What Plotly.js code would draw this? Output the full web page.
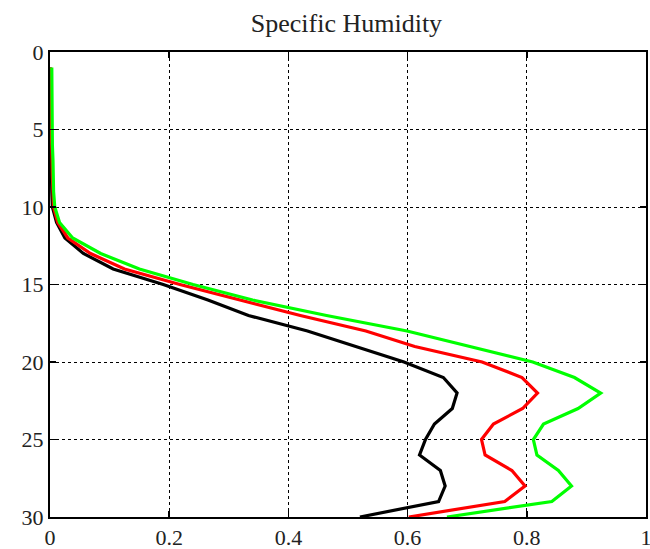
<!DOCTYPE html>
<html>
<head>
<meta charset="utf-8">
<script src="https://cdn.plot.ly/plotly-3.0.1.min.js"></script>
<style>
  html, body { margin: 0; padding: 0; background: #fff; }
  #chart { width: 650px; height: 549px; }
</style>
</head>
<body>
<div id="chart"></div>
<script>
// Vertical levels (0 at top, 30 at bottom)
const levels = [1, 2, 3, 4, 5, 6, 7, 8, 9, 10,
                11, 12, 13, 14, 15, 16, 17, 18, 19, 20,
                21, 22, 23, 24, 25, 26, 27, 28, 29, 30];

// Specific humidity profiles
const humidityBlack = [0.000, 0.000, 0.001, 0.001, 0.001, 0.001, 0.002, 0.002, 0.003, 0.004,
                       0.011, 0.025, 0.056, 0.106, 0.190, 0.265, 0.333, 0.432, 0.513, 0.594,
                       0.660, 0.683, 0.675, 0.645, 0.630, 0.620, 0.655, 0.663, 0.652, 0.520];
const humidityRed   = [0.001, 0.001, 0.002, 0.002, 0.002, 0.003, 0.003, 0.004, 0.005, 0.006,
                       0.013, 0.030, 0.068, 0.125, 0.218, 0.320, 0.420, 0.530, 0.612, 0.725,
                       0.792, 0.818, 0.793, 0.744, 0.724, 0.730, 0.775, 0.797, 0.763, 0.602];
const humidityGreen = [0.003, 0.003, 0.003, 0.004, 0.004, 0.004, 0.005, 0.005, 0.006, 0.008,
                       0.016, 0.038, 0.085, 0.150, 0.240, 0.340, 0.464, 0.599, 0.705, 0.810,
                       0.880, 0.924, 0.886, 0.828, 0.811, 0.817, 0.853, 0.875, 0.842, 0.666];

const xTicks = [0, 0.2, 0.4, 0.6, 0.8, 1];
const xTickLabels = ['0', '0.2', '0.4', '0.6', '0.8', '1'];
const yTicks = [0, 5, 10, 15, 20, 25, 30];
const yTickLabels = ['0', '5', '10', '15', '20', '25', '30'];

const serif = 'Liberation Serif';

function profile(values, color) {
  return {
    x: values,
    y: levels,
    type: 'scatter',
    mode: 'lines',
    line: { color: color, width: 3.2 },
    hoverinfo: 'x+y',
    showlegend: false
  };
}

const data = [
  profile(humidityBlack, '#000000'),
  profile(humidityRed, '#ff0000'),
  profile(humidityGreen, '#00ff00')
];

const axisCommon = {
  showline: true,
  linecolor: '#000',
  linewidth: 2,
  mirror: 'ticks',
  ticks: 'inside',
  ticklen: 6,
  tickwidth: 1.5,
  tickcolor: '#000',
  showgrid: true,
  gridcolor: '#000',
  gridwidth: 1,
  griddash: 'dot',
  zeroline: false,
  ticklabeloverflow: 'allow',
  tickfont: { family: serif, size: 22, color: '#222' }
};

const layout = {
  width: 650,
  height: 549,
  paper_bgcolor: '#fff',
  plot_bgcolor: '#fff',
  margin: { l: 50, r: 4, t: 52, b: 32 },
  title: {
    text: 'Specific Humidity',
    font: { family: serif, size: 26, color: '#222' },
    x: 0.533,
    xanchor: 'center',
    y: 1 - 23 / 549,
    yanchor: 'middle',
    yref: 'container'
  },
  xaxis: Object.assign({}, axisCommon, {
    range: [0, 1],
    tickvals: xTicks,
    ticktext: xTickLabels,
    ticklabelstandoff: 0
  }),
  yaxis: Object.assign({}, axisCommon, {
    range: [30, 0],
    tickvals: yTicks,
    ticktext: yTickLabels
  })
};

Plotly.newPlot('chart', data, layout, { displayModeBar: false, staticPlot: true });
</script>
</body>
</html>
